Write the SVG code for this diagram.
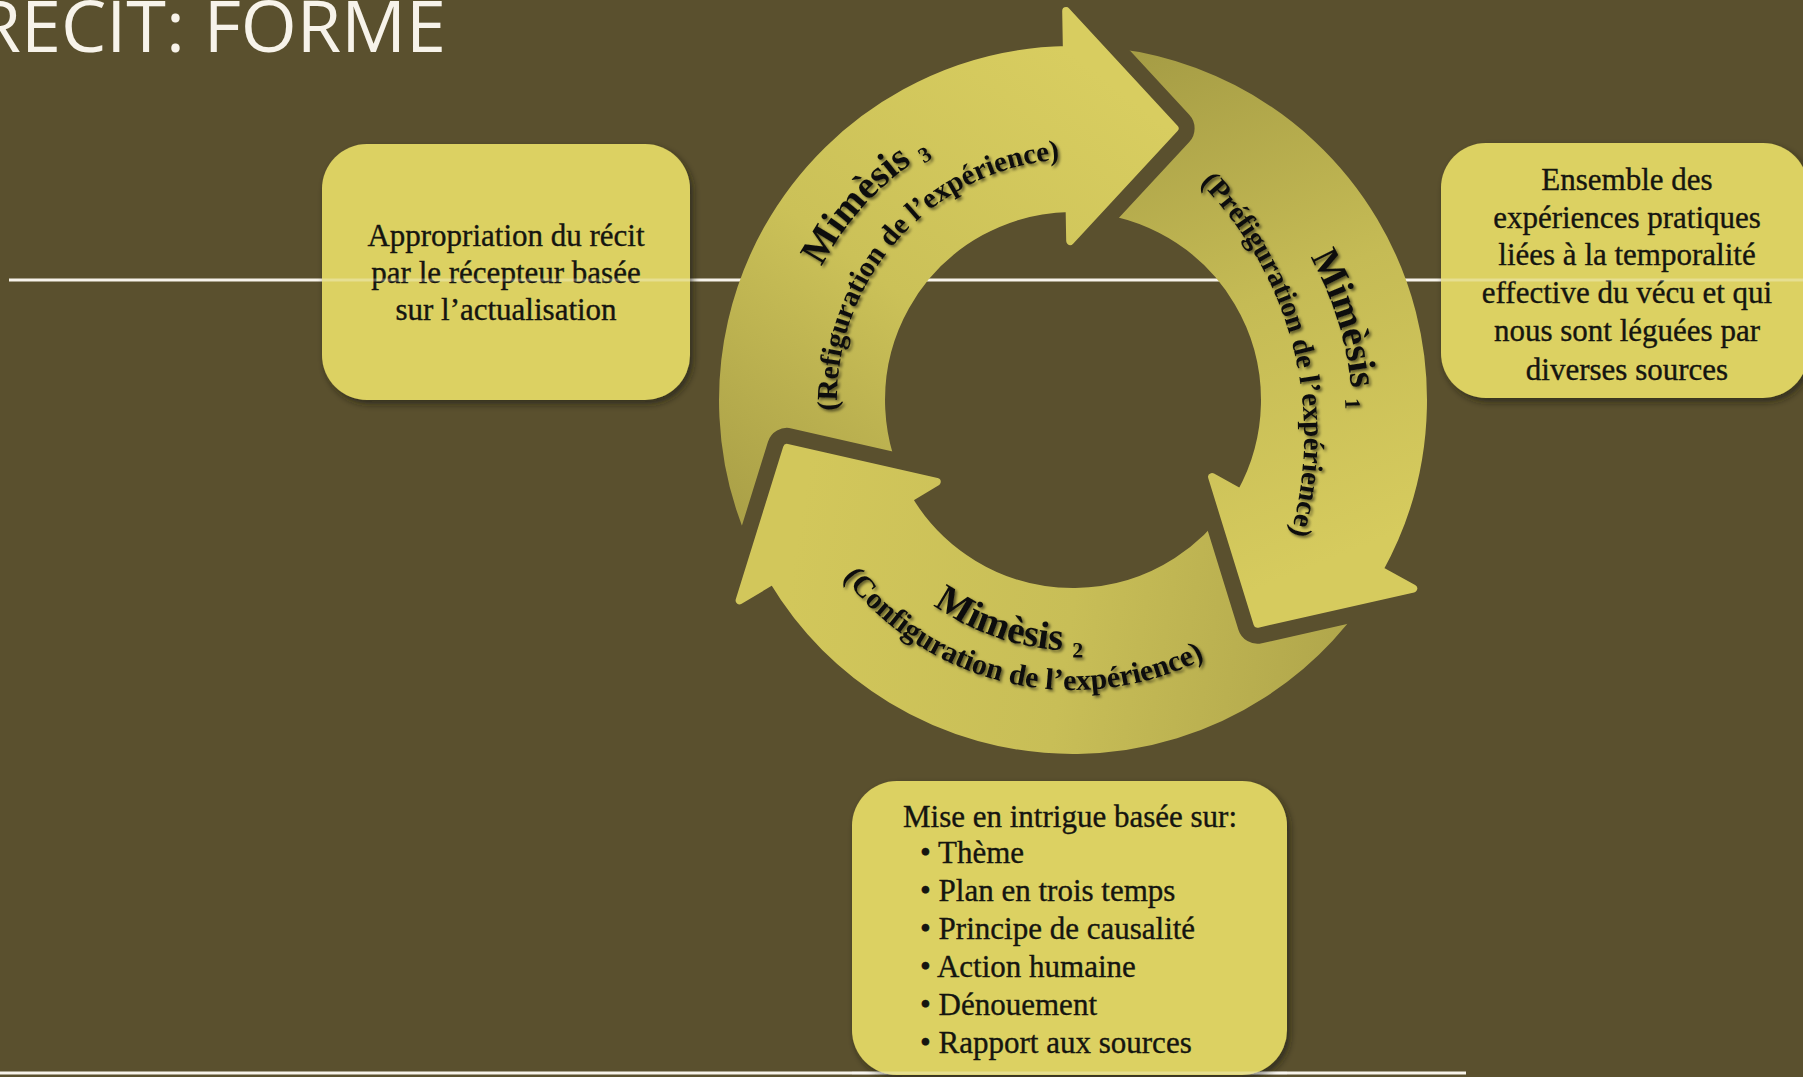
<svg xmlns="http://www.w3.org/2000/svg" width="1803" height="1077" viewBox="0 0 1803 1077">
<style>
.bg{fill:#5a502e}
.rule{stroke:#f7f3ea;stroke-width:3;fill:none}
.rule2{stroke:#ffffff;stroke-width:3;fill:none;opacity:.3}
.box{fill:#dcd162;filter:url(#sh)}
.bt{font-family:"Liberation Serif","Times New Roman",serif;font-size:31px;fill:#151510;stroke:#151510;stroke-width:0.35}
.title{font-family:"Open Sans","Noto Sans",sans-serif;font-weight:400;font-size:72px;fill:#f7f3ea}
.rt{font-family:"Liberation Serif","Times New Roman",serif;font-weight:bold;fill:#111;filter:url(#tsh)}
.big{font-size:39px}
.small{font-size:30px}
.sub{font-size:22px}
</style>
<defs>
<filter id="sh" x="-10%" y="-10%" width="130%" height="130%">
<feDropShadow dx="3" dy="4" stdDeviation="3.5" flood-color="#1e1a08" flood-opacity="0.65"/>
</filter>
<filter id="tsh" x="-10%" y="-10%" width="120%" height="130%">
<feDropShadow dx="2" dy="2" stdDeviation="1.8" flood-color="#000" flood-opacity="0.55"/>
</filter>
<linearGradient id="g3" gradientUnits="userSpaceOnUse" x1="760" y1="560" x2="1120" y2="90">
<stop offset="0" stop-color="#a89e46"/><stop offset="0.5" stop-color="#cbc158"/><stop offset="1" stop-color="#d8cd60"/>
</linearGradient>
<linearGradient id="g1" gradientUnits="userSpaceOnUse" x1="1130" y1="60" x2="1330" y2="560">
<stop offset="0" stop-color="#a69d45"/><stop offset="0.5" stop-color="#c5bb55"/><stop offset="1" stop-color="#d6cb5e"/>
</linearGradient>
<linearGradient id="g2" gradientUnits="userSpaceOnUse" x1="1360" y1="610" x2="800" y2="520">
<stop offset="0" stop-color="#b0a64b"/><stop offset="0.5" stop-color="#c8be57"/><stop offset="1" stop-color="#d2c75b"/>
</linearGradient>
<mask id="m1" maskUnits="userSpaceOnUse" x="0" y="0" width="1803" height="1077">
<rect width="1803" height="1077" fill="#fff"/>
<polygon points="1066.2,11.1 1174.6,128.4 1070.2,241" fill="#000" stroke="#000" stroke-width="40" stroke-linejoin="round"/>
</mask>
<mask id="m2" maskUnits="userSpaceOnUse" x="0" y="0" width="1803" height="1077">
<rect width="1803" height="1077" fill="#fff"/>
<polygon points="1413.2,588.6 1257.5,623.8 1212.1,477.1" fill="#000" stroke="#000" stroke-width="40" stroke-linejoin="round"/>
</mask>
<mask id="m3" maskUnits="userSpaceOnUse" x="0" y="0" width="1803" height="1077">
<rect width="1803" height="1077" fill="#fff"/>
<polygon points="739.6,600.4 787,447.9 936.7,481.9" fill="#000" stroke="#000" stroke-width="40" stroke-linejoin="round"/>
</mask>
<path id="p3a" d="M 821.7 266.6 A 289 289 0 0 1 1027.8 115.4"/>
<path id="p3b" d="M 837.2 410.5 A 241 241 0 0 1 1069.6 159.1"/>
<path id="p1a" d="M 1310 257 A 330 330 0 0 1 1352 440"/>
<path id="p1b" d="M 1200 183 A 359 359 0 0 1 1270.8 586.9"/>
<path id="p2a" d="M 933.2 604.9 A 248 248 0 0 0 1163.5 634.9"/>
<path id="p2b" d="M 843.2 576.9 A 290 290 0 0 0 1239.3 637.6"/>
</defs>
<rect class="bg" x="0" y="0" width="1803" height="1077"/>
<text class="title" x="446" y="52" text-anchor="end">RÉCIT: FORME</text>
<g id="rules">
<line class="rule" x1="9" y1="280" x2="1803" y2="280"/>
<line class="rule" x1="0" y1="1073" x2="1466" y2="1073"/>
</g>
<g id="box-appropriation">
<rect class="box" x="322" y="144" width="368" height="256" rx="45"/>
<text class="bt" text-anchor="middle"><tspan x="506" y="246">Appropriation du récit</tspan><tspan x="506" y="283">par le récepteur basée</tspan><tspan x="506" y="320">sur l’actualisation</tspan></text>
</g>
<g id="box-ensemble">
<rect class="box" x="1441" y="143" width="367" height="255" rx="45"/>
<text class="bt" text-anchor="middle"><tspan x="1627" y="190">Ensemble des</tspan><tspan x="1627" y="228">expériences pratiques</tspan><tspan x="1627" y="265">liées à la temporalité</tspan><tspan x="1627" y="303">effective du vécu et qui</tspan><tspan x="1627" y="341">nous sont léguées par</tspan><tspan x="1627" y="380">diverses sources</tspan></text>
</g>
<g id="box-intrigue">
<rect class="box" x="852" y="781" width="435" height="294" rx="45"/>
<text class="bt"><tspan x="903" y="827">Mise en intrigue basée sur:</tspan><tspan x="920" y="863">• Thème</tspan><tspan x="920" y="901">• Plan en trois temps</tspan><tspan x="920" y="939">• Principe de causalité</tspan><tspan x="920" y="977">• Action humaine</tspan><tspan x="920" y="1015">• Dénouement</tspan><tspan x="920" y="1053">• Rapport aux sources</tspan></text>
</g>
<g id="rules-overlay">
<line class="rule2" x1="322" y1="280" x2="690" y2="280"/>
<line class="rule2" x1="1441" y1="280" x2="1803" y2="280"/>
<line class="rule2" x1="852" y1="1073" x2="1287" y2="1073"/>
</g>
<g id="arrow-mimesis1">
<path mask="url(#m1)" fill="url(#g1)" stroke="url(#g1)" stroke-width="8" stroke-linejoin="round" d="M 1069.9 50 A 350 350 0 0 1 1379.1 569.7 L 1413.2 588.6 L 1257.5 623.8 L 1212.1 477.1 L 1240.9 493.1 A 192 192 0 0 0 1071.3 208 Z"/>
<text class="rt"><textPath href="#p1a"><tspan class="big">Mimèsis </tspan><tspan class="sub" dy="7">1</tspan></textPath></text>
<text class="rt" style="font-size:29px"><textPath href="#p1b">(Préfiguration de l’expérience)</textPath></text>
</g>
<g id="arrow-mimesis2">
<path mask="url(#m2)" fill="url(#g2)" stroke="url(#g2)" stroke-width="8" stroke-linejoin="round" d="M 1377.6 572.3 A 350 350 0 0 1 773 580.3 L 739.6 600.4 L 787 447.9 L 936.7 481.9 L 908.4 498.9 A 192 192 0 0 0 1240.1 494.5 Z"/>
<text class="rt"><textPath href="#p2a"><tspan class="big">Mimèsis </tspan><tspan class="sub" dy="7">2</tspan></textPath></text>
<text class="rt small"><textPath href="#p2b">(Configuration de l’expérience)</textPath></text>
</g>
<g id="arrow-mimesis3">
<path mask="url(#m3)" fill="url(#g3)" stroke="url(#g3)" stroke-width="8" stroke-linejoin="round" d="M 771.4 577.6 A 350 350 0 0 1 1066.9 50.1 L 1066.2 11.1 L 1174.6 128.4 L 1070.2 241 L 1069.6 208 A 192 192 0 0 0 907.6 497.4 Z"/>
<text class="rt"><textPath href="#p3a"><tspan class="big">Mimèsis </tspan><tspan class="sub" dy="7">3</tspan></textPath></text>
<text class="rt" style="font-size:29px"><textPath href="#p3b">(Refiguration de l’expérience)</textPath></text>
</g>
</svg>
